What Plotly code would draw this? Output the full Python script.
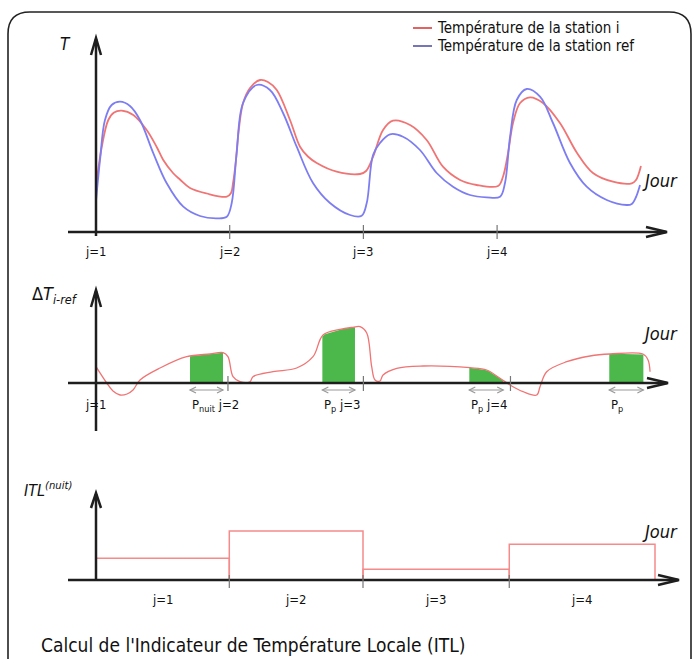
import numpy as np
import plotly.graph_objects as go

W, H = 692, 659

# ---------------- data ----------------
# station i temperature (days, arbitrary T units)
days_i = [1.000, 1.043, 1.092, 1.135, 1.192, 1.279, 1.379, 1.454, 1.503, 1.576, 1.628, 1.703,
          1.828, 1.978, 2.010, 2.025, 2.047, 2.062, 2.100, 2.152, 2.227, 2.286, 2.352, 2.451,
          2.526, 2.585, 2.651, 2.800, 2.975, 3.020, 3.072, 3.147, 3.221, 3.349, 3.473, 3.595, 3.723,
          3.847, 4.007, 4.044, 4.082, 4.119, 4.172, 4.246, 4.343, 4.470, 4.598, 4.717, 4.867,
          5.007, 5.039, 5.076]
temp_i = [4.5, 8.5, 11.2, 11.95, 12.13, 11.7, 10.2, 8.5, 7.2, 5.9, 5.25, 4.4,
          3.85, 3.53, 3.9, 4.9, 7.2, 9.5, 12.9, 14.4, 15.2, 15.0, 14.2, 11.2,
          8.53, 7.55, 6.9, 6.03, 5.8, 6.1, 7.5, 10.2, 11.13, 10.7, 9.2, 6.53, 5.2,
          4.7, 4.6, 5.53, 7.9, 10.9, 12.9, 13.47, 12.9, 10.9, 7.9, 5.9, 5.03,
          4.87, 5.2, 6.6]

# reference station temperature
days_ref = [1.000, 1.030, 1.067, 1.117, 1.180, 1.254, 1.329, 1.429, 1.529, 1.653, 1.778, 1.903,
            1.978, 2.015, 2.052, 2.100, 2.202, 2.301, 2.399, 2.501, 2.623, 2.750, 2.900, 2.987,
            3.025, 3.072, 3.124, 3.199, 3.296, 3.423, 3.548, 3.670, 3.797, 3.922, 4.022, 4.059,
            4.097, 4.147, 4.221, 4.321, 4.418, 4.545, 4.670, 4.820, 4.969, 5.007, 5.039, 5.069]
temp_ref = [3.1, 7.2, 11.2, 12.7, 13.03, 12.6, 11.2, 7.87, 4.87, 2.53, 1.6, 1.37,
            1.53, 2.9, 7.9, 12.9, 14.7, 14.2, 11.9, 8.53, 4.9, 2.9, 1.7, 1.63,
            2.9, 7.7, 8.9, 9.77, 9.53, 8.2, 5.9, 4.53, 3.7, 3.47, 3.53, 4.9,
            9.53, 13.2, 14.3, 13.53, 10.9, 6.9, 4.53, 3.2, 2.7, 2.8, 3.5, 4.7]

# difference i - ref (schematic)
days_delta = [1.000, 1.080, 1.127, 1.180, 1.232, 1.277, 1.329, 1.479, 1.678, 1.853, 1.950, 1.987,
              2.025, 2.077, 2.152, 2.174, 2.324, 2.501, 2.623, 2.698, 2.825, 2.922, 2.975, 3.025,
              3.062, 3.087, 3.124, 3.147, 3.249, 3.446, 3.797, 3.922, 4.022, 4.097, 4.194, 4.296,
              4.321, 4.371, 4.521, 4.695, 4.844, 5.091, 5.129, 5.144]
delta_t = [1.63, 0.0, -0.8, -1.2, -1.1, -0.7, 0.3, 1.5, 2.63, 2.9, 3.03, 2.63,
           0.63, 0.13, 0.13, 0.63, 1.13, 1.5, 2.63, 4.8, 5.37, 5.57, 5.63, 5.0,
           1.63, 0.3, 0.2, 0.8, 1.47, 1.7, 1.53, 1.3, 0.47, -0.2, -0.87, -1.2,
           -0.37, 1.13, 2.13, 2.7, 2.9, 2.9, 2.3, 1.13]

# night periods P (start day, end day)
window_start = [1.703, 2.693, 3.792, 4.839]
window_end = [1.950, 2.937, 4.046, 5.094]
window_labels = ["P<sub>nuit</sub> j=2", "P<sub>p</sub> j=3", "P<sub>p</sub> j=4", "P<sub>p</sub>"]

# ITL(nuit) per day
itl_start = [1.000, 1.997, 2.997, 4.091]
itl_end = [1.997, 2.997, 4.091, 5.181]
itl_values = [2.17, 4.9, 1.07, 3.57]

day_labels = ["j=1", "j=2", "j=3", "j=4"]
top_day_pos = [1.0, 2.0, 3.0, 4.0]
mid_day_pos = [1.0, 1.987, 3.0, 4.1]

# ---------------- helpers for layout (pixel -> paper) ----------------
PX_PER_DAY = 133.7

def px(x):
    return x / W

def py(y):
    return 1 - y / H

X_RANGE = [1 + (0 - 96) / PX_PER_DAY, 1 + (W - 96) / PX_PER_DAY]
FONT = "DejaVu Sans Condensed, Liberation Sans Narrow, DejaVu Sans, sans-serif"
RED = "#f07474"
BLUE = "#7d7df2"
AX = "#1e1e1e"

fig = go.Figure()

# top panel curves
fig.add_trace(go.Scatter(x=days_i, y=temp_i, mode="lines", line=dict(color=RED, width=1.8, shape="spline", smoothing=1.0),
                         xaxis="x", yaxis="y", showlegend=False, hoverinfo="skip"))
fig.add_trace(go.Scatter(x=days_ref, y=temp_ref, mode="lines", line=dict(color=BLUE, width=1.8, shape="spline", smoothing=1.0),
                         xaxis="x", yaxis="y", showlegend=False, hoverinfo="skip"))

# middle panel green areas
for a, b in zip(window_start, window_end):
    gx = np.linspace(a, b, 30)
    gy = np.interp(gx, days_delta, delta_t)
    fx = list(gx) + [b, a]
    fy = list(gy) + [0, 0]
    fig.add_trace(go.Scatter(x=fx, y=fy, mode="lines", fill="toself", fillcolor="#4cb84c",
                             line=dict(width=0, color="#4cb84c"), xaxis="x", yaxis="y2",
                             showlegend=False, hoverinfo="skip"))

fig.add_trace(go.Scatter(x=days_delta, y=delta_t, mode="lines",
                         line=dict(color=RED, width=1.3, shape="spline", smoothing=1.0),
                         xaxis="x", yaxis="y2", showlegend=False, hoverinfo="skip"))

# bottom panel ITL boxes
sx, sy = [], []
for a, b, v in zip(itl_start, itl_end, itl_values):
    sx += [a, a, b, b, None]
    sy += [0, v, v, 0, None]
fig.add_trace(go.Scatter(x=sx, y=sy, mode="lines", line=dict(color="#f58a8a", width=1.5),
                         xaxis="x", yaxis="y3", showlegend=False, hoverinfo="skip"))

shapes = []

def line(x0, y0, x1, y1, color=AX, width=2.5):
    shapes.append(dict(type="line", xref="paper", yref="paper", x0=px(x0), y0=py(y0), x1=px(x1), y1=py(y1),
                       line=dict(color=color, width=width), layer="above"))

def path(points, color=AX, width=2.5):
    d = "M " + " L ".join(f"{px(a):.5f},{py(b):.5f}" for a, b in points)
    shapes.append(dict(type="path", xref="paper", yref="paper", path=d, line=dict(color=color, width=width), layer="above"))

# frame
r = 22
fx0, fy0, fx1, fy1 = 8, 12, 691, 672
fpath = (f"M {px(fx0)},{py(fy1)} L {px(fx0)},{py(fy0 + r)} "
         f"Q {px(fx0)},{py(fy0)} {px(fx0 + r)},{py(fy0)} L {px(fx1 - r)},{py(fy0)} "
         f"Q {px(fx1)},{py(fy0)} {px(fx1)},{py(fy0 + r)} L {px(fx1)},{py(fy1)}")
shapes.append(dict(type="path", xref="paper", yref="paper", path=fpath, line=dict(color="#222", width=1.6)))

# axes: top
line(68, 232, 666, 232)
path([(646, 227), (667, 232), (646, 237)])
line(96, 236, 96, 39)
path([(91, 55), (96, 38), (101, 55)])
# middle
line(68, 383, 667, 383)
path([(647, 378), (668, 383), (647, 388)])
line(96, 431, 96, 291)
path([(91, 307), (96, 290), (101, 307)])
# bottom
line(68, 580, 678, 580)
path([(658, 575), (679, 580), (658, 585)])
line(96, 581, 96, 494)
path([(91, 508), (96, 493), (101, 508)])

# tick marks
for d in top_day_pos[1:]:
    shapes.append(dict(type="line", xref="x", yref="paper", x0=d, x1=d, y0=py(239), y1=py(225),
                       line=dict(color="#777", width=1.2)))
for d in mid_day_pos[1:]:
    shapes.append(dict(type="line", xref="x", yref="paper", x0=d, x1=d, y0=py(391), y1=py(376),
                       line=dict(color="#777", width=1.2)))
for d in itl_start[1:]:
    shapes.append(dict(type="line", xref="x", yref="paper", x0=d, x1=d, y0=py(588), y1=py(575),
                       line=dict(color="#777", width=1.2)))

# double arrows under the P windows (drawn as shapes)
AH_DAYS = 6 / PX_PER_DAY
for a, b in zip(window_start, window_end):
    shapes.append(dict(type="line", xref="x", yref="paper", x0=a, x1=b, y0=py(390), y1=py(390),
                       line=dict(color="#999", width=1.2)))
    for tip, back in ((a, a + AH_DAYS), (b, b - AH_DAYS)):
        shapes.append(dict(type="path", xref="paper", yref="paper",
                           path=(f"M {(back - X_RANGE[0]) / (X_RANGE[1] - X_RANGE[0]):.5f},{py(387):.5f} "
                                 f"L {(tip - X_RANGE[0]) / (X_RANGE[1] - X_RANGE[0]):.5f},{py(390):.5f} "
                                 f"L {(back - X_RANGE[0]) / (X_RANGE[1] - X_RANGE[0]):.5f},{py(393):.5f}"),
                           line=dict(color="#999", width=1.2)))

# legend lines
line(413, 28, 432, 28, color="#d42020", width=1.4)
line(413, 46, 432, 46, color="#3a3a9a", width=1.4)

ann = []

def text(x, y, s, size=13, xanchor="center", xref="paper"):
    ann.append(dict(x=x if xref != "paper" else px(x), y=py(y), xref=xref, yref="paper", text=s,
                    showarrow=False, xanchor=xanchor, yanchor="middle",
                    font=dict(family=FONT, size=size, color="#111")))

text(435, 28, "Température de la station i", size=15, xanchor="left")
text(435, 46, "Température de la station ref", size=15, xanchor="left")

text(58, 44, "<i>T</i>", size=17, xanchor="left")
text(30, 295, "Δ<i>T</i><sub><i>i-ref</i></sub>", size=18, xanchor="left")
text(22, 490, "<i>ITL</i><sup><i>(nuit)</i></sup>", size=16, xanchor="left")
for yj in (181, 333, 531):
    text(640, yj, "<i>Jour</i>", size=18, xanchor="left")

for d, lab in zip(top_day_pos, day_labels):
    text(d, 251, lab, size=13, xref="x")
text(1.0, 404, day_labels[0], size=13, xref="x")
for a, lab in zip(window_start, window_labels):
    text(a, 405, lab, size=13, xref="x", xanchor="left")
for a, b, lab in zip(itl_start, itl_end, day_labels):
    text((a + b) / 2, 599, lab, size=13, xref="x")

text(39, 645, "Calcul de l'Indicateur de Température Locale (ITL)", size=19, xanchor="left")

hidden = dict(visible=False, fixedrange=True)
fig.update_layout(
    width=W, height=H, margin=dict(l=0, r=0, t=0, b=0),
    paper_bgcolor="white", plot_bgcolor="rgba(0,0,0,0)",
    xaxis=dict(range=X_RANGE, domain=[0, 1], anchor="y", **hidden),
    yaxis=dict(range=[-3.0, 21.0], domain=[py(262), py(22)], anchor="x", **hidden),
    yaxis2=dict(range=[-5.7, 10.3], domain=[py(440), py(280)], anchor="x", **hidden),
    yaxis3=dict(range=[-4.0, 10.0], domain=[py(620), py(480)], anchor="x", **hidden),
    shapes=shapes, annotations=ann, showlegend=False,
)

fig.write_html("out.html")
